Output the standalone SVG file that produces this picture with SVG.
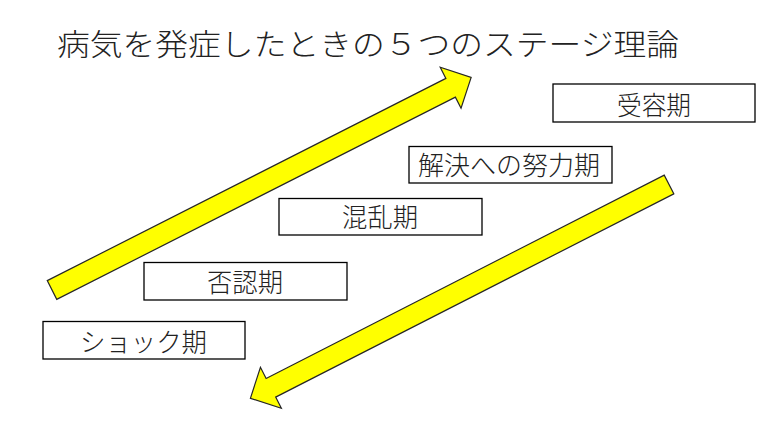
<svg xmlns="http://www.w3.org/2000/svg" width="779" height="437" viewBox="0 0 779 437">
<defs>
<style>
.bg{fill:#ffffff}
.box rect{fill:#ffffff;stroke:#000000;stroke-width:1.3}
.lbl{font-family:"Noto Sans CJK JP","Noto Sans CJK SC",sans-serif;font-size:26px;font-weight:300;fill:#222222;text-anchor:middle;dominant-baseline:central}
.title{font-family:"Noto Sans CJK JP","Noto Sans CJK SC",sans-serif;font-size:30px;font-weight:300;fill:#222222}
.arrow{fill:#ffff00;stroke:#262626;stroke-width:1.2;stroke-linejoin:miter}
</style>
<polygon id="arr" points="0,-10.5 447,-10.5 447,-23 470,0 447,23 447,10.5 0,10.5"/>
</defs>
<rect class="bg" x="0" y="0" width="779" height="437"/>
<g id="title">
<text class="title" x="57" y="55" textLength="622" lengthAdjust="spacingAndGlyphs">病気を発症したときの５つのステージ理論</text>
</g>
<g id="connectors">
<use href="#arr" class="arrow" transform="translate(52,290) rotate(-26.9)"/>
<use href="#arr" class="arrow" transform="translate(669,184.5) rotate(152.95)"/>
</g>
<g id="node-juyou" class="box">
<rect x="553" y="84" width="202" height="38"/>
<text class="lbl" x="654" y="103" textLength="74" lengthAdjust="spacingAndGlyphs">受容期</text>
</g>
<g id="node-kaiketsu" class="box">
<rect x="409" y="146.5" width="203" height="36.5"/>
<text class="lbl" x="509" y="163.5" textLength="182" lengthAdjust="spacingAndGlyphs">解決への努力期</text>
</g>
<g id="node-konran" class="box">
<rect x="279" y="198.5" width="203" height="36.5"/>
<text class="lbl" x="380" y="215.5" textLength="76" lengthAdjust="spacingAndGlyphs">混乱期</text>
</g>
<g id="node-hinin" class="box">
<rect x="144" y="262.5" width="203" height="37.5"/>
<text class="lbl" x="245" y="280" textLength="76" lengthAdjust="spacingAndGlyphs">否認期</text>
</g>
<g id="node-shock" class="box">
<rect x="43" y="321.5" width="202" height="37.5"/>
<text class="lbl" x="143.5" y="340" textLength="127" lengthAdjust="spacingAndGlyphs">ショック期</text>
</g>
</svg>
